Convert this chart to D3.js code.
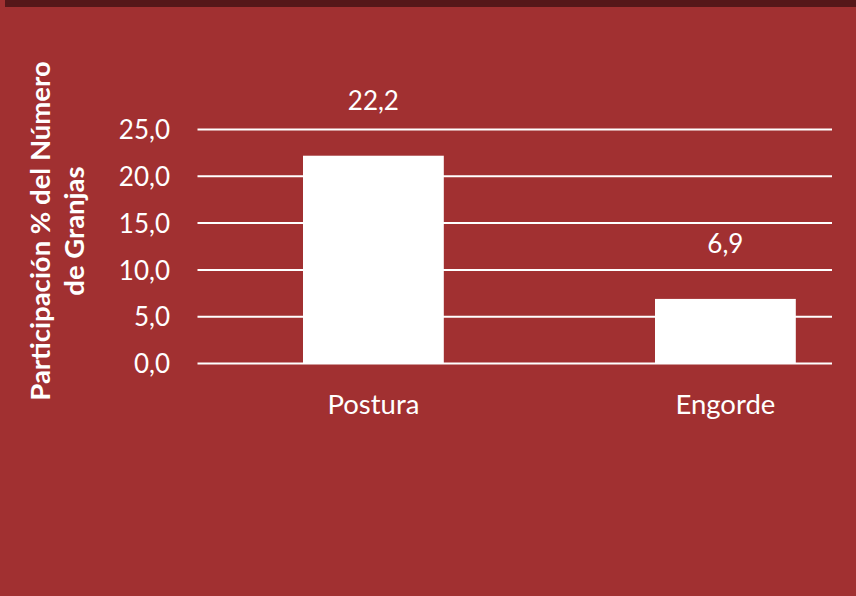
<!DOCTYPE html>
<html>
<head>
<meta charset="utf-8">
<script src="https://cdn.jsdelivr.net/npm/d3@7"></script>
<style>
  html, body { margin: 0; padding: 0; background: #A13031; }
  svg { display: block; }
  text { font-family: Lato, "Open Sans", sans-serif; fill: #ffffff; }
</style>
</head>
<body>
<svg id="chart" width="856" height="596"></svg>
<script>
const categories = ["Postura", "Engorde"];
const values = [22.2, 6.9];
const valueLabels = ["22,2", "6,9"];
const yTicks = [0, 5, 10, 15, 20, 25];
const yTickLabels = ["0,0", "5,0", "10,0", "15,0", "20,0", "25,0"];
const titleLines = ["Participación % del Número", "de Granjas"];

const W = 856, H = 596;
const svg = d3.select("#chart");

svg.append("rect").attr("x", 0).attr("y", 0).attr("width", W).attr("height", H).attr("fill", "#A13031");
svg.append("rect").attr("x", 5).attr("y", 0).attr("width", W - 5).attr("height", 7).attr("fill", "#561719");

const gridX0 = 197.5, gridX1 = 832;
const y = d3.scaleLinear().domain([0, 25]).range([363.5, 129.5]);
const x = d3.scaleBand().domain(categories).range([197.4, 901.4]).paddingInner(0.6).paddingOuter(0.3);

// gridlines
svg.append("g").selectAll("line").data(yTicks).join("line")
  .attr("x1", gridX0).attr("x2", gridX1)
  .attr("y1", d => y(d)).attr("y2", d => y(d))
  .attr("stroke", "#ffffff").attr("stroke-width", 2);

// y axis labels
const yAxis = d3.axisLeft(y).tickValues(yTicks).tickSize(0).tickPadding(0)
  .tickFormat((d, i) => yTickLabels[i]);
const gy = svg.append("g").attr("transform", "translate(170,0)").call(yAxis);
gy.select(".domain").remove();
gy.selectAll("text").attr("font-family", "Lato, 'Open Sans', sans-serif").attr("font-size", 26).attr("fill", "#fff").attr("dy", "0.35em");

// bars
svg.append("g").selectAll("rect").data(values).join("rect")
  .attr("x", (d, i) => x(categories[i]))
  .attr("width", x.bandwidth())
  .attr("y", d => y(d))
  .attr("height", d => y(0) - y(d))
  .attr("fill", "#ffffff");

// value labels
svg.append("g").selectAll("text").data(values).join("text")
  .attr("x", (d, i) => x(categories[i]) + x.bandwidth() / 2)
  .attr("y", d => y(d) - 46)
  .attr("text-anchor", "middle")
  .attr("font-size", 26)
  .text((d, i) => valueLabels[i]);

// category labels
const xAxis = d3.axisBottom(x).tickSize(0).tickPadding(0);
const gx = svg.append("g").attr("transform", "translate(0,414)").call(xAxis);
gx.select(".domain").remove();
gx.selectAll("text").attr("font-family", "Lato, 'Open Sans', sans-serif").attr("font-size", 27.5).attr("fill", "#fff").attr("dy", 0);

// axis title
const t = svg.append("text")
  .attr("transform", "translate(0,231) rotate(-90)")
  .attr("text-anchor", "middle")
  .attr("font-weight", "bold")
  .attr("font-size", 27.5);
t.selectAll("tspan").data(titleLines).join("tspan")
  .attr("x", 0)
  .attr("y", (d, i) => i === 0 ? 49.5 : 83.5)
  .text(d => d);
</script>
</body>
</html>
